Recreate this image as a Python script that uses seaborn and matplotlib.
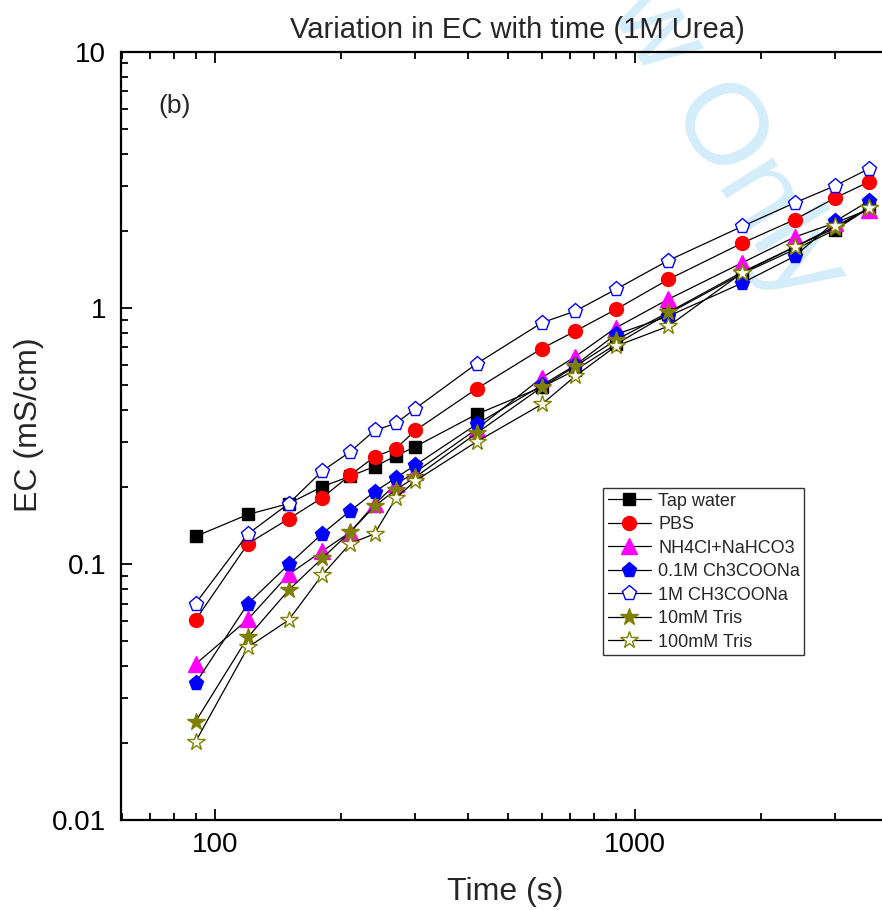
import pandas as pd
import seaborn as sns
import matplotlib.pyplot as plt
from matplotlib.ticker import FuncFormatter, NullFormatter, LogLocator

# Data
time_s = [90, 120, 150, 180, 210, 240, 270, 300, 420, 600, 720, 900, 1200, 1800, 2400, 3000, 3600]

tap_water = [0.128, 0.156, 0.172, 0.200, 0.220, 0.240, 0.264, 0.287, 0.384, 0.49, 0.57,
             0.72, 0.95, 1.36, 1.69, 2.02, 2.45]
pbs = [0.0604, 0.120, 0.150, 0.181, 0.222, 0.262, 0.282, 0.332, 0.483, 0.693, 0.81,
       0.985, 1.29, 1.79, 2.21, 2.69, 3.10]
nh4cl = [0.0406, 0.0608, 0.091, 0.112, 0.133, 0.171, 0.205, 0.228, 0.336, 0.533, 0.644,
         0.835, 1.08, 1.50, 1.89, 2.15, 2.42]
acetate_01 = [0.0342, 0.070, 0.0995, 0.131, 0.161, 0.191, 0.217, 0.243, 0.351, 0.498, 0.596,
              0.787, 0.927, 1.25, 1.59, 2.18, 2.61]
acetate_1 = [0.070, 0.131, 0.172, 0.230, 0.274, 0.332, 0.354, 0.404, 0.605, 0.874, 0.97,
             1.18, 1.53, 2.08, 2.57, 3.00, 3.49]
tris_10 = [0.0242, 0.0518, 0.0791, 0.105, 0.133, 0.168, 0.195, 0.218, 0.324, 0.49, 0.59,
           0.748, 0.96, 1.38, 1.73, 2.05, 2.45]
tris_100 = [0.0202, 0.0473, 0.0604, 0.0903, 0.120, 0.131, 0.181, 0.211, 0.30, 0.42, 0.54,
            0.708, 0.847, 1.37, 1.73, 2.08, 2.45]

labels = ["Tap water", "PBS", "NH4Cl+NaHCO3", "0.1M Ch3COONa", "1M CH3COONa",
          "10mM Tris", "100mM Tris"]
values = [tap_water, pbs, nh4cl, acetate_01, acetate_1, tris_10, tris_100]

# marker, size, face colour, edge colour
styles = [
    ("s", 8.6, "black", "black"),
    ("o", 10, "red", "red"),
    ("^", 11, "magenta", "magenta"),
    ("p", 11, "blue", "blue"),
    ("p", 11, "white", "blue"),
    ("*", 13, "olive", "olive"),
    ("*", 13, "white", "olive"),
]

df = pd.concat(
    [pd.DataFrame({"Time": time_s, "EC": v, "Medium": lab}) for lab, v in zip(labels, values)],
    ignore_index=True,
)

sns.set_style("ticks")
plt.rcParams["font.family"] = ["Liberation Sans", "DejaVu Sans"]

fig = plt.figure(figsize=(8.82, 9.10), dpi=100)
ax = fig.add_axes([121.5 / 882, 1 - 820 / 910, 766.5 / 882, 768.3 / 910])
ax.patch.set_alpha(0)

for lab, (mk, ms, fc, ec) in zip(labels, styles):
    sns.lineplot(data=df[df["Medium"] == lab], x="Time", y="EC", ax=ax,
                 color="black", linewidth=0.9, marker=mk, markersize=ms,
                 markerfacecolor=fc, markeredgecolor=ec, markeredgewidth=1.0,
                 label=lab, legend=False)

ax.set_xscale("log")
ax.set_yscale("log")
ax.set_xlim(60, 4000)
ax.set_ylim(0.01, 10)

fmt = FuncFormatter(lambda v, p: f"{v:g}")
ax.xaxis.set_major_formatter(fmt)
ax.yaxis.set_major_formatter(fmt)
ax.xaxis.set_minor_locator(LogLocator(base=10, subs=range(2, 10)))
ax.yaxis.set_minor_locator(LogLocator(base=10, subs=range(2, 10)))
ax.xaxis.set_minor_formatter(NullFormatter())
ax.yaxis.set_minor_formatter(NullFormatter())

ax.tick_params(which="both", direction="in", top=True, right=False, width=1.3,
               labelsize=20, colors="black")
ax.tick_params(which="major", length=8)
ax.tick_params(which="minor", length=5)
ax.tick_params(axis="y", pad=11)
ax.tick_params(axis="x", pad=9)
for side in ["left", "bottom", "top"]:
    ax.spines[side].set_linewidth(1.6)
    ax.spines[side].set_color("black")
ax.spines["right"].set_visible(False)

ax.set_xlabel("Time (s)", fontsize=23, labelpad=13)
ax.set_ylabel("EC (mS/cm)", fontsize=23)
ax.yaxis.set_label_coords(-(121.5 - 44) / 766.5, (820 - 425) / 768.3)

fig.text(517 / 882, 1 - 38 / 910, "Variation in EC with time (1M Urea)",
         ha="center", va="baseline", fontsize=21)
ax.text(158 / 882, 1 - 113 / 910, "(b)", transform=fig.transFigure,
        fontsize=19, va="baseline")

# watermark
fig.text(623 / 882, 1 - 34 / 910, "Review Only", rotation=-58, rotation_mode="anchor",
         ha="center", va="baseline", fontsize=83, color="#d4edfa", zorder=-1)

leg = ax.legend(loc="upper left", bbox_to_anchor=((603 - 121.5) / 766.5, (820 - 488) / 768.3),
                borderaxespad=0, fontsize=13, frameon=True, fancybox=False,
                handlelength=2.4, handletextpad=0.4, labelspacing=0.36,
                borderpad=0.25)
leg.get_frame().set_edgecolor("black")
leg.get_frame().set_linewidth(1.0)

plt.savefig("out.png", dpi=100)
